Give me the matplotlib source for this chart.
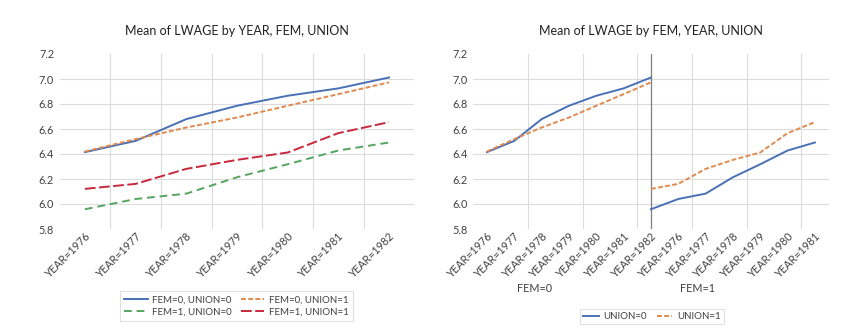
import matplotlib
matplotlib.use("Agg")
import matplotlib.pyplot as plt
import matplotlib.transforms as mtrans
import numpy as np

plt.rcParams['font.family'] = ['Lato', 'DejaVu Sans']

# data
years = ['YEAR=1976', 'YEAR=1977', 'YEAR=1978', 'YEAR=1979',
         'YEAR=1980', 'YEAR=1981', 'YEAR=1982']
fem0_union0 = [6.415, 6.505, 6.679, 6.786, 6.866, 6.925, 7.012]
fem0_union1 = [6.420, 6.519, 6.612, 6.692, 6.786, 6.879, 6.973]
fem1_union0 = [5.958, 6.040, 6.083, 6.214, 6.318, 6.428, 6.492]
fem1_union1 = [6.121, 6.161, 6.281, 6.353, 6.412, 6.567, 6.655]

# right chart categories (as Excel drew them: 13 labels, FEM=1 series starts on the last FEM=0 slot)
right_labels = years + years[:-1]
group_labels = ['FEM=0', 'FEM=1']

BLUE = '#4a70b5'
ORANGE = '#e08a4e'
GREEN = '#55a560'
RED = '#c8283c'
GRID = '#dcdcdc'

fig = plt.figure(figsize=(8.6, 3.36), dpi=100)
ax1 = fig.add_axes([59.6 / 860, 1 - 229 / 336, (414.4 - 59.6) / 860, 175 / 336])
ax2 = fig.add_axes([473.3 / 860, 1 - 229 / 336, (828.6 - 473.3) / 860, 175 / 336])


def style_axes(ax, n, grid_x):
    ax.set_ylim(5.8, 7.2)
    ax.set_yticks(np.arange(5.8, 7.21, 0.2))
    ax.set_yticklabels([f'{v:.1f}' for v in np.arange(5.8, 7.21, 0.2)])
    ax.set_xlim(-0.5, n - 0.5)
    for s in ax.spines.values():
        s.set_visible(False)
    ax.tick_params(axis='both', length=0, labelsize=7.8, colors='#404040')
    ax.tick_params(axis='y', pad=4)
    ax.tick_params(axis='x', pad=1)
    for v in np.arange(6.0, 7.01, 0.2):
        ax.axhline(v, color=GRID, lw=0.8, zorder=0)
    for g in grid_x:
        ax.axvline(g, color=GRID, lw=0.8, zorder=0)


def style_legend(leg):
    leg.get_frame().set_edgecolor('#d9d9d9')
    leg.get_frame().set_linewidth(0.8)


# left chart
x = np.arange(len(years))
style_axes(ax1, len(years), np.arange(0.5, len(years) - 1, 1.0))
ax1.plot(x, fem0_union0, color=BLUE, lw=1.4, label='FEM=0, UNION=0')
ax1.plot(x, fem0_union1, color=ORANGE, lw=1.4, dashes=(2.5, 1.2), label='FEM=0, UNION=1')
ax1.plot(x, fem1_union0, color=GREEN, lw=1.4, dashes=(4, 2.5), label='FEM=1, UNION=0')
ax1.plot(x, fem1_union1, color=RED, lw=1.4, dashes=(5.5, 1.8), label='FEM=1, UNION=1')
ax1.set_xticks(x)
ax1.set_xticklabels(years, rotation=45, ha='right', rotation_mode='anchor')
ax1.set_title('Mean of LWAGE by YEAR, FEM, UNION', fontsize=9, color='#222222', pad=13.5)
h, l = ax1.get_legend_handles_labels()
leg1 = fig.legend([h[0], h[2], h[1], h[3]], [l[0], l[2], l[1], l[3]],
                  ncol=2, loc='center', bbox_to_anchor=(236.5 / 860, 1 - 306 / 336),
                  fontsize=7, frameon=True, fancybox=False, handlelength=2.4,
                  columnspacing=0.9, handletextpad=0.5, labelspacing=0.35,
                  borderpad=0.45, labelcolor='#404040')
style_legend(leg1)

# right chart
n_right = len(right_labels)
off = len(years) - 1
style_axes(ax2, n_right, np.arange(1.5, n_right - 1, 2.0))
ax2.axvline(off, color='#808080', lw=0.9, zorder=1)
ax2.plot(x, fem0_union0, color=BLUE, lw=1.4, label='UNION=0')
ax2.plot(x, fem0_union1, color=ORANGE, lw=1.4, dashes=(2.5, 1.2), label='UNION=1')
ax2.plot(x + off, fem1_union0, color=BLUE, lw=1.4)
ax2.plot(x + off, fem1_union1, color=ORANGE, lw=1.4, dashes=(2.5, 1.2))
ax2.set_xticks(np.arange(n_right))
ax2.set_xticklabels(right_labels, rotation=45, ha='right', rotation_mode='anchor')
ax2.set_title('Mean of LWAGE by FEM, YEAR, UNION', fontsize=9, color='#222222', pad=13.5)
tr = mtrans.blended_transform_factory(ax2.transData, fig.transFigure)
for gx, gl in zip([1.75, 7.71], group_labels):
    ax2.text(gx, 1 - 289 / 336, gl, transform=tr, ha='center', va='center',
             fontsize=7.8, color='#404040')
leg2 = fig.legend(ncol=2, handles=ax2.get_legend_handles_labels()[0],
                  loc='center', bbox_to_anchor=(652 / 860, 1 - 316.5 / 336),
                  fontsize=7, frameon=True, fancybox=False, handlelength=1.6,
                  columnspacing=1.0, handletextpad=0.5, borderpad=0.35,
                  labelcolor='#404040')
style_legend(leg2)

fig.savefig('out.png', dpi=100)
